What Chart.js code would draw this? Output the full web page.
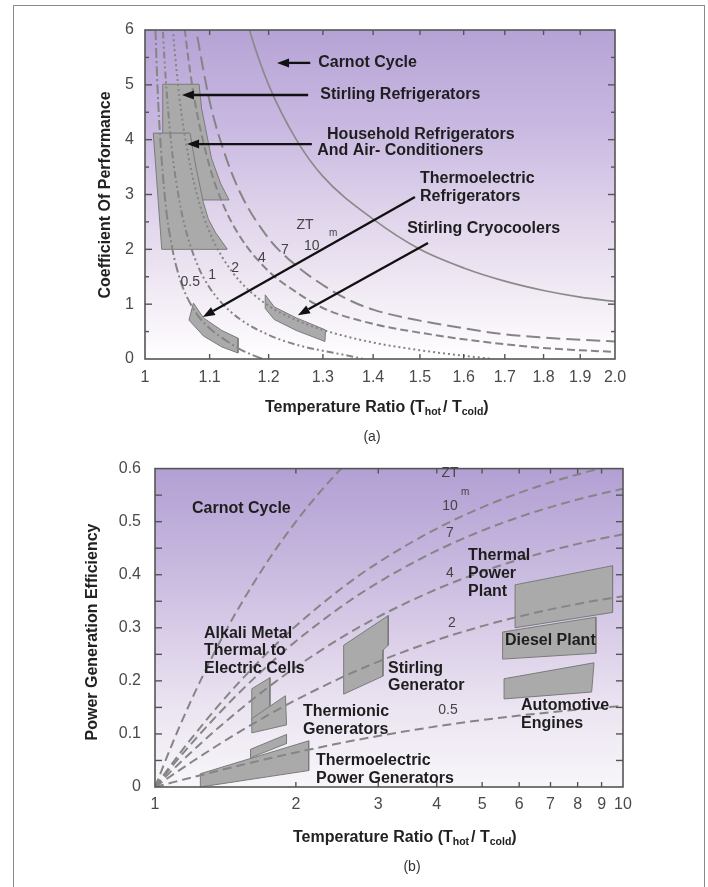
<!DOCTYPE html>
<html>
<head>
<meta charset="utf-8">
<script src="https://cdn.jsdelivr.net/npm/chart.js@4.4.1/dist/chart.umd.min.js"></script>
<style>
  html, body { margin: 0; padding: 0; background: #fff; }
  body { width: 708px; height: 887px; position: relative; overflow: hidden; }
  #frame { position: absolute; left: 13px; top: 5px; width: 690px; height: 900px; border: 1.5px solid #8a8a8a; border-bottom: none; }
  canvas { position: absolute; left: 0; }
  #cA { top: 0; }
  #cB { top: 445px; }
</style>
</head>
<body>
<div id="frame"></div>
<canvas id="cA" width="708" height="445"></canvas>
<canvas id="cB" width="708" height="442"></canvas>
<script>
// ===================== (a) refrigerazione: COP vs Thot/Tcold =====================
const xTicksA  = [1, 1.1, 1.2, 1.3, 1.4, 1.5, 1.6, 1.7, 1.8, 1.9, 2];
const xLabelsA = ['1', '1.1', '1.2', '1.3', '1.4', '1.5', '1.6', '1.7', '1.8', '1.9', '2.0'];
const yTicksA  = [0, 1, 2, 3, 4, 5, 6];
const yLabelsA = ['0', '1', '2', '3', '4', '5', '6'];
const yMinorA  = [0.5, 1.5, 2.5, 3.5, 4.5, 5.5];

// curve
const copCarnotX = [1.15, 1.17, 1.2, 1.25, 1.3, 1.4, 1.5, 1.6, 1.7, 1.8, 1.9, 2.0];
const copCarnotY = [6.67, 5.88, 5.0, 4.0, 3.33, 2.55, 2.0, 1.66, 1.42, 1.25, 1.13, 1.05];
const copZt05X = [1.012, 1.016, 1.02, 1.03, 1.04, 1.05, 1.06, 1.08, 1.1, 1.12, 1.15, 1.17, 1.19];
const copZt05Y = [7.97, 5.86, 4.6, 2.92, 2.08, 1.57, 1.23, 0.81, 0.56, 0.39, 0.18, 0.08, 0];
const copZt1X = [1.02, 1.025, 1.03, 1.04, 1.05, 1.06, 1.08, 1.1, 1.12, 1.15, 1.2, 1.25, 1.3, 1.35, 1.38];
const copZt1Y = [8.16, 6.45, 5.3, 3.87, 3.02, 2.44, 1.73, 1.3, 1.02, 0.73, 0.44, 0.26, 0.15, 0.06, 0];
const copZt2X = [1.035, 1.04, 1.05, 1.06, 1.08, 1.1, 1.12, 1.15, 1.2, 1.25, 1.3, 1.4, 1.5, 1.6, 1.67];
const copZt2Y = [7.29, 6.33, 4.99, 4.1, 2.98, 2.31, 1.87, 1.42, 0.97, 0.71, 0.53, 0.3, 0.16, 0.06, 0];
const copZt4X = [1.05, 1.06, 1.07, 1.08, 1.1, 1.12, 1.15, 1.2, 1.25, 1.3, 1.4, 1.5, 1.6, 1.7, 1.8, 1.9, 2.0];
const copZt4Y = [7.33, 6.06, 5.15, 4.47, 3.51, 2.87, 2.24, 1.6, 1.22, 0.93, 0.64, 0.48, 0.36, 0.27, 0.2, 0.16, 0.13];
const copZt10X = [1.07, 1.08, 1.1, 1.12, 1.15, 1.2, 1.25, 1.3, 1.35, 1.4, 1.5, 1.6, 1.7, 1.8, 1.9, 2.0];
const copZt10Y = [6.6, 5.9, 4.7, 3.9, 3.05, 2.2, 1.7, 1.35, 1.08, 0.9, 0.7, 0.56, 0.45, 0.39, 0.35, 0.32];

// zone grigie (poligoni chiusi)
const stirlingRefX  = [1.0265, 1.083, 1.087, 1.103, 1.118, 1.132, 1.0265];
const stirlingRefY  = [5.01, 5.01, 4.57, 3.66, 3.2, 2.9, 2.9];
const householdX    = [1.0123, 1.0686, 1.078, 1.09, 1.098, 1.11, 1.128, 1.128, 1.025];
const householdY    = [4.12, 4.12, 3.5, 2.85, 2.55, 2.3, 2.02, 2.0, 2.0];
const teRefX        = [1.074, 1.09, 1.12, 1.147, 1.147, 1.12, 1.09, 1.067];
const teRefY        = [1.02, 0.75, 0.52, 0.38, 0.11, 0.22, 0.42, 0.71];
const cryoX         = [1.194, 1.21, 1.25, 1.305, 1.304, 1.25, 1.21, 1.194];
const cryoY         = [1.17, 0.95, 0.75, 0.53, 0.32, 0.52, 0.72, 0.92];

// ===================== (b) generazione: efficienza vs Thot/Tcold =====================
const xTicksB  = [1, 2, 3, 4, 5, 6, 7, 8, 9, 10];
const xLabelsB = ['1', '2', '3', '4', '5', '6', '7', '8', '9', '10'];
const yTicksB  = [0, 0.1, 0.2, 0.3, 0.4, 0.5, 0.6];
const yLabelsB = ['0', '0.1', '0.2', '0.3', '0.4', '0.5', '0.6'];
const yMinorB  = [0.05, 0.15, 0.25, 0.35, 0.45, 0.55];

const effX       = [1, 1.1, 1.2, 1.35, 1.5, 1.75, 2, 2.5, 3, 4, 5, 6, 7, 8, 9, 10];
const effZt05    = [0, 0.0096, 0.0182, 0.0296, 0.0396, 0.0536, 0.0651, 0.083, 0.0961, 0.1143, 0.1262, 0.1346, 0.1408, 0.1457, 0.1495, 0.1527];
const effZt2     = [0, 0.0252, 0.0476, 0.0768, 0.1017, 0.1362, 0.164, 0.206, 0.2363, 0.277, 0.3031, 0.3213, 0.3347, 0.3449, 0.3531, 0.3596];
const effZt4     = [0, 0.0357, 0.0671, 0.1077, 0.1419, 0.1887, 0.2259, 0.2813, 0.3207, 0.3729, 0.4059, 0.4287, 0.4453, 0.4581, 0.4681, 0.4762];
const effZt7     = [0, 0.0445, 0.0832, 0.1328, 0.1744, 0.2305, 0.2747, 0.3398, 0.3855, 0.4455, 0.483, 0.5087, 0.5274, 0.5417, 0.5529, 0.5619];
const effZt10    = [0, 0.0498, 0.093, 0.148, 0.1938, 0.2554, 0.3035, 0.374, 0.4231, 0.4871, 0.527, 0.5542, 0.574, 0.589, 0.6008, 0.6102];
const effCarnotX = [1, 1.1, 1.2, 1.35, 1.5, 1.75, 2, 2.25, 2.5, 2.6];
const effCarnotY = [0, 0.0909, 0.1667, 0.2593, 0.3333, 0.4286, 0.5, 0.5556, 0.6, 0.615];

const teGenX     = [1.25, 1.25, 2.13, 2.13];
const teGenY     = [0.0, 0.025, 0.087, 0.031];
const teSmallX   = [1.6, 1.6, 1.91, 1.91];
const teSmallY   = [0.055, 0.071, 0.099, 0.082];
const alkaliX    = [1.61, 1.61, 1.76, 1.76];
const alkaliY    = [0.125, 0.185, 0.206, 0.15];
const thermionX  = [1.61, 1.61, 1.9, 1.91];
const thermionY  = [0.102, 0.129, 0.172, 0.117];
const stirGenX   = [2.53, 2.53, 3.15, 3.15, 3.07, 3.07];
const stirGenY   = [0.175, 0.267, 0.323, 0.267, 0.258, 0.209];
const thermalX   = [5.88, 5.88, 9.5, 9.5];
const thermalY   = [0.30, 0.381, 0.417, 0.329];
const dieselX    = [5.53, 5.53, 8.75, 8.75];
const dieselY    = [0.241, 0.292, 0.32, 0.252];
const autoX      = [5.57, 5.57, 8.67, 8.57];
const autoY      = [0.166, 0.204, 0.234, 0.179];

// ===================== helpers =====================
const pts = (xs, ys) => xs.map((x, i) => ({ x, y: ys[i] }));
const ring = (xs, ys) => { const p = pts(xs, ys); p.push({ ...p[0] }); return p; };

const GREY = '#858585', BOXFILL = '#aaaaaa', BOXLINE = '#7b7b7b';
const FONT = "'Liberation Sans', Arial, sans-serif";
Chart.defaults.font.family = FONT;

const curve = (data, dash, extra = {}) => ({
  data, showLine: true, borderColor: GREY, borderWidth: 2, borderDash: dash,
  pointRadius: 0, pointHoverRadius: 0, cubicInterpolationMode: 'monotone', fill: false, order: 0, ...extra
});
const box = (data, order) => ({
  data, showLine: true, borderColor: BOXLINE, borderWidth: 1, pointRadius: 0, pointHoverRadius: 0,
  tension: 0, fill: false, poly: BOXFILL, order
});

// annotazioni (posizioni in coordinate dati)
const notesA = [
  ['Carnot Cycle', 1.291, 5.40], ['Stirling Refrigerators', 1.295, 4.815],
  ['Household Refrigerators', 1.308, 4.10], ['And Air- Conditioners', 1.289, 3.794],
  ['Thermoelectric', 1.5, 3.283], ['Refrigerators', 1.5, 2.955], ['Stirling Cryocoolers', 1.472, 2.371]
];
const ztA = [['ZT', 1.266, 2.444], ['10', 1.279, 2.061], ['7', 1.229, 1.988], ['4', 1.188, 1.842],
             ['2', 1.142, 1.66], ['1', 1.104, 1.532], ['0.5', 1.069, 1.404]];
const subA = [['m', 1.32, 2.298]];
const arrowsA = [[1.276, 5.40, 1.215, 5.40], [1.272, 4.815, 1.056, 4.815], [1.279, 3.92, 1.064, 3.92],
                 [1.489, 2.955, 1.089, 0.766], [1.518, 2.116, 1.253, 0.80]];

const notesB = [
  ['Carnot Cycle', 1.2, 0.5246], ['Alkali Metal', 1.273, 0.289], ['Thermal to', 1.273, 0.2577],
  ['Electric Cells', 1.273, 0.2227], ['Thermionic', 2.071, 0.1417], ['Generators', 2.071, 0.1086],
  ['Thermoelectric', 2.208, 0.0497], ['Power Generators', 2.208, 0.0166], ['Stirling', 3.147, 0.2227],
  ['Generator', 3.147, 0.1914], ['Thermal', 4.665, 0.4362], ['Power', 4.665, 0.4013], ['Plant', 4.665, 0.368],
  ['Diesel Plant', 5.596, 0.276], ['Automotive', 6.055, 0.1528], ['Engines', 6.055, 0.1196]
];
const ztB = [['ZT', 4.268, 0.5908], ['10', 4.268, 0.53], ['7', 4.268, 0.4786], ['4', 4.268, 0.4031],
             ['2', 4.31, 0.3092], ['0.5', 4.227, 0.1454]];
const subB = [['m', 4.6, 0.5559]];

// titolo asse x con pedici
function tempTitle(ctx, x, y) {
  const big = `bold 16px ${FONT}`, small = `bold 10.5px ${FONT}`;
  const parts = [['Temperature Ratio (T', big, 0], ['hot', small, 4], ['/ T', big, 0], ['cold', small, 4], [')', big, 0]];
  ctx.textAlign = 'left'; ctx.textBaseline = 'middle'; ctx.fillStyle = '#222';
  parts.forEach(([t, f, dy], i) => {
    ctx.font = f; ctx.fillText(t, x, y + dy);
    x += ctx.measureText(t).width + (i === 1 ? 2 : 0);
  });
}

// plugin: sfondo sfumato, riempimento poligoni, tacche interne, cornice, frecce e testi
function decor(c) {
  return {
    id: 'decor',
    beforeDraw(chart) {
      const { ctx, chartArea: a } = chart;
      const g = ctx.createLinearGradient(0, a.top, 0, a.bottom);
      c.bg.forEach(([s, col]) => g.addColorStop(s, col));
      ctx.save(); ctx.fillStyle = g; ctx.fillRect(a.left, a.top, a.width, a.height); ctx.restore();
    },
    beforeDatasetDraw(chart, args) {
      const ds = chart.data.datasets[args.index];
      if (!ds.poly) return;
      const ctx = chart.ctx, p = args.meta.data;
      ctx.save();
      ctx.beginPath();
      p.forEach((q, i) => i ? ctx.lineTo(q.x, q.y) : ctx.moveTo(q.x, q.y));
      ctx.closePath(); ctx.fillStyle = ds.poly; ctx.fill();
      ctx.restore();
    },
    afterDatasetsDraw(chart) {
      const { ctx, chartArea: a, scales: { x: sx, y: sy } } = chart;
      const X = v => sx.getPixelForValue(v), Y = v => sy.getPixelForValue(v);
      ctx.save();
      // cornice e tacche verso l'interno
      ctx.strokeStyle = '#555'; ctx.lineWidth = 1.6;
      ctx.strokeRect(a.left, a.top, a.width, a.height);
      ctx.lineWidth = 1.4;
      const seg = (x1, y1, x2, y2) => { ctx.beginPath(); ctx.moveTo(x1, y1); ctx.lineTo(x2, y2); ctx.stroke(); };
      c.xTicks.slice(1, -1).forEach(v => { seg(X(v), a.bottom, X(v), a.bottom - 5); seg(X(v), a.top, X(v), a.top + 5); });
      c.yTicks.slice(1, -1).forEach(v => { seg(a.left, Y(v), a.left + 7, Y(v)); seg(a.right, Y(v), a.right - 7, Y(v)); });
      c.yMinor.forEach(v => { seg(a.left, Y(v), a.left + c.minorLen, Y(v)); seg(a.right, Y(v), a.right - c.minorLen, Y(v)); });
      // frecce
      ctx.strokeStyle = '#111'; ctx.fillStyle = '#111'; ctx.lineWidth = 2.3;
      (c.arrows || []).forEach(([x1, y1, x2, y2]) => {
        const px1 = X(x1), py1 = Y(y1), px2 = X(x2), py2 = Y(y2);
        const ang = Math.atan2(py2 - py1, px2 - px1), L = 12, W = 4.5;
        const bx = px2 - L * Math.cos(ang), by = py2 - L * Math.sin(ang);
        seg(px1, py1, bx, by);
        ctx.beginPath(); ctx.moveTo(px2, py2);
        ctx.lineTo(bx + W * Math.sin(ang), by - W * Math.cos(ang));
        ctx.lineTo(bx - W * Math.sin(ang), by + W * Math.cos(ang));
        ctx.closePath(); ctx.fill();
      });
      // etichette
      ctx.textBaseline = 'middle';
      ctx.font = `bold 16px ${FONT}`; ctx.fillStyle = '#1e1e1e'; ctx.textAlign = 'left';
      c.notes.forEach(([t, x, y]) => ctx.fillText(t, X(x), Y(y)));
      ctx.font = `14px ${FONT}`; ctx.fillStyle = '#444'; ctx.textAlign = 'center';
      c.zt.forEach(([t, x, y]) => ctx.fillText(t, X(x), Y(y)));
      ctx.font = `10px ${FONT}`;
      c.sub.forEach(([t, x, y]) => ctx.fillText(t, X(x), Y(y)));
      // titoli assi
      ctx.save();
      ctx.translate(c.yTitle[1], c.yTitle[2]); ctx.rotate(-Math.PI / 2);
      ctx.font = `bold 16px ${FONT}`; ctx.fillStyle = '#222'; ctx.textAlign = 'center';
      ctx.fillText(c.yTitle[0], 0, 0);
      ctx.restore();
      tempTitle(ctx, c.xTitle[0], c.xTitle[1]);
      ctx.font = `14px ${FONT}`; ctx.fillStyle = '#333'; ctx.textAlign = 'center';
      ctx.fillText(c.caption[0], c.caption[1], c.caption[2]);
      ctx.restore();
    }
  };
}

function axes(o) {
  const tickFont = { size: 16, family: FONT };
  return {
    x: {
      type: 'logarithmic', min: o.xMin, max: o.xMax,
      grid: { display: false, drawTicks: false }, border: { display: false },
      afterBuildTicks: s => { s.ticks = o.xTicks.map(v => ({ value: v })); },
      afterFit: s => { s.height = o.xH; },
      ticks: { autoSkip: false, maxRotation: 0, padding: o.xPad, color: '#4a4a4a', font: tickFont,
               callback: (v, i) => o.xLabels[i] }
    },
    y: {
      type: 'linear', min: o.yMin, max: o.yMax,
      grid: { display: false, drawTicks: false }, border: { display: false },
      afterBuildTicks: s => { s.ticks = o.yTicks.map(v => ({ value: v })); },
      afterFit: s => { s.width = o.yW; },
      ticks: { padding: o.yPad, color: '#4a4a4a', font: tickFont, callback: (v, i) => o.yLabels[i] }
    }
  };
}

const base = {
  responsive: false, animation: false, devicePixelRatio: 1,
  plugins: { legend: { display: false }, tooltip: { enabled: false } }
};

// ---- grafico (a)
new Chart(document.getElementById('cA'), {
  type: 'scatter',
  data: { datasets: [
    curve(pts(copCarnotX, copCarnotY), [], { borderWidth: 1.7, borderColor: '#8a8a8a' }),
    curve(pts(copZt05X, copZt05Y), [10, 3, 2, 3]),
    curve(pts(copZt1X, copZt1Y), [7, 3, 2, 3, 2, 3]),
    curve(pts(copZt2X, copZt2Y), [2, 3]),
    curve(pts(copZt4X, copZt4Y), [8, 4]),
    curve(pts(copZt10X, copZt10Y), [14, 6]),
    box(ring(householdX, householdY), 5),
    box(ring(stirlingRefX, stirlingRefY), 6),
    box(ring(teRefX, teRefY), 5),
    box(ring(cryoX, cryoY), 5)
  ]},
  options: { ...base,
    layout: { padding: { left: 0, top: 30, right: 93, bottom: 0 } },
    scales: axes({ xMin: 1, xMax: 2, xTicks: xTicksA, xLabels: xLabelsA, xH: 86, xPad: 9,
                   yMin: 0, yMax: 6, yTicks: yTicksA, yLabels: yLabelsA, yW: 145, yPad: 11 })
  },
  plugins: [decor({
    bg: [[0, '#b6a3d6'], [0.3, '#c9b9e1'], [0.55, '#dfd3eb'], [0.75, '#eee6f2'], [0.9, '#f8f4fa'], [1, '#ffffff']],
    xTicks: xTicksA, yTicks: yTicksA, yMinor: yMinorA, minorLen: 4,
    arrows: arrowsA, notes: notesA, zt: ztA, sub: subA,
    yTitle: ['Coefficient Of Performance', 106, 195], xTitle: [265, 408], caption: ['(a)', 372, 437]
  })]
});

// ---- grafico (b)
new Chart(document.getElementById('cB'), {
  type: 'scatter',
  data: { datasets: [
    curve(pts(effCarnotX, effCarnotY), [9, 5]),
    curve(pts(effX, effZt05), [9, 5]),
    curve(pts(effX, effZt2), [9, 5]),
    curve(pts(effX, effZt4), [9, 5]),
    curve(pts(effX, effZt7), [9, 5]),
    curve(pts(effX, effZt10), [9, 5]),
    box(ring(teSmallX, teSmallY), 5),
    box(ring(teGenX, teGenY), 6),
    box(ring(thermionX, thermionY), 5),
    box(ring(alkaliX, alkaliY), 6),
    box(ring(stirGenX, stirGenY), 5),
    box(ring(thermalX, thermalY), 5),
    box(ring(dieselX, dieselY), 6),
    box(ring(autoX, autoY), 5)
  ]},
  options: { ...base,
    layout: { padding: { left: 0, top: 16, right: 85, bottom: 0 } },
    scales: axes({ xMin: 1, xMax: 10, xTicks: xTicksB, xLabels: xLabelsB, xH: 100, xPad: 8,
                   yMin: 0, yMax: 0.6, yTicks: yTicksB, yLabels: yLabelsB, yW: 155, yPad: 14 })
  },
  plugins: [decor({
    bg: [[0, '#b2a0d3'], [0.3, '#c7b8df'], [0.55, '#dcd0e9'], [0.75, '#ebe4f1'], [1, '#f8f6fa']],
    xTicks: xTicksB, yTicks: yTicksB, yMinor: yMinorB, minorLen: 7,
    arrows: [], notes: notesB, zt: ztB, sub: subB,
    yTitle: ['Power Generation Efficiency', 93, 187], xTitle: [293, 393], caption: ['(b)', 412, 422]
  })]
});
</script>
</body>
</html>
